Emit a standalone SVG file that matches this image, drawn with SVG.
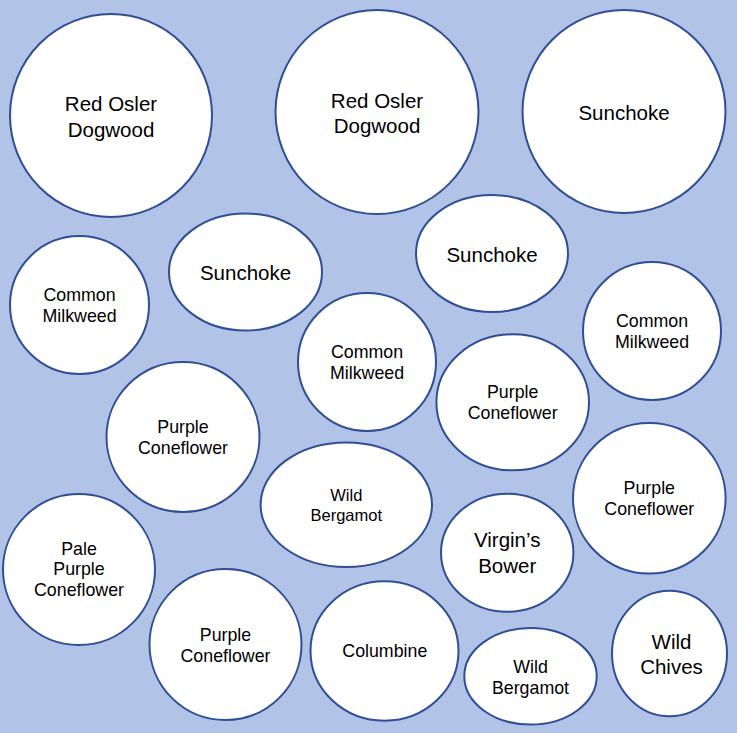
<svg xmlns="http://www.w3.org/2000/svg" width="737" height="733" viewBox="0 0 737 733">
<style>
.n{fill:#ffffff;stroke:#2F4E96;stroke-width:2}
text{font-family:"Liberation Sans",Arial,sans-serif;fill:#000;text-anchor:middle}
.l{font-size:20.5px}
.m{font-size:17.8px}
.s{font-size:16.5px}
</style>
<rect x="0" y="0" width="737" height="733" fill="#B1C4E7"/>
<g id="connectors"></g>
<g id="n1"><ellipse class="n" cx="111" cy="115.5" rx="101" ry="101.5"/><text class="l" x="111" y="111">Red Osler</text><text class="l" x="111" y="136.5">Dogwood</text></g>
<g id="n2"><ellipse class="n" cx="377" cy="112" rx="101.5" ry="102"/><text class="l" x="377" y="107.5">Red Osler</text><text class="l" x="377" y="133">Dogwood</text></g>
<g id="n3"><ellipse class="n" cx="624" cy="111.5" rx="101.5" ry="101.5"/><text class="l" x="624" y="119.5">Sunchoke</text></g>
<g id="n4"><ellipse class="n" cx="245.5" cy="272" rx="76.5" ry="58.5"/><text class="l" x="245.5" y="280">Sunchoke</text></g>
<g id="n5"><ellipse class="n" cx="492" cy="253.5" rx="76" ry="58.5"/><text class="l" x="492" y="261.5">Sunchoke</text></g>
<g id="n6"><ellipse class="n" cx="79.5" cy="305" rx="69.5" ry="69"/><text class="m" x="79.5" y="301">Common</text><text class="m" x="79.5" y="322">Milkweed</text></g>
<g id="n7"><ellipse class="n" cx="367" cy="362" rx="69" ry="69"/><text class="m" x="367" y="358">Common</text><text class="m" x="367" y="379">Milkweed</text></g>
<g id="n8"><ellipse class="n" cx="652" cy="331" rx="69" ry="69"/><text class="m" x="652" y="327">Common</text><text class="m" x="652" y="348">Milkweed</text></g>
<g id="n9"><ellipse class="n" cx="183" cy="437" rx="76.5" ry="75"/><text class="m" x="183" y="433">Purple</text><text class="m" x="183" y="454">Coneflower</text></g>
<g id="n10"><ellipse class="n" cx="512.7" cy="402.3" rx="76.3" ry="68"/><text class="m" x="512.7" y="397.5">Purple</text><text class="m" x="512.7" y="418.5">Coneflower</text></g>
<g id="n11"><ellipse class="n" cx="649.3" cy="498.3" rx="76.3" ry="75.3"/><text class="m" x="649.3" y="494">Purple</text><text class="m" x="649.3" y="515">Coneflower</text></g>
<g id="n12"><ellipse class="n" cx="346.3" cy="504.7" rx="85.7" ry="62.3"/><text class="s" x="346.3" y="500.7">Wild</text><text class="s" x="346.3" y="520.7">Bergamot</text></g>
<g id="n13"><ellipse class="n" cx="507.2" cy="552.7" rx="66.2" ry="59"/><text class="l" x="507.2" y="547.3">Virgin’s</text><text class="l" x="507.2" y="573">Bower</text></g>
<g id="n14"><ellipse class="n" cx="79" cy="569.5" rx="76" ry="75.5"/><text class="m" x="79" y="554.7">Pale</text><text class="m" x="79" y="575.3">Purple</text><text class="m" x="79" y="596.3">Coneflower</text></g>
<g id="n15"><ellipse class="n" cx="225.5" cy="644.5" rx="76" ry="75.5"/><text class="m" x="225.5" y="640.7">Purple</text><text class="m" x="225.5" y="661.7">Coneflower</text></g>
<g id="n16"><ellipse class="n" cx="384.5" cy="651" rx="74" ry="69.7"/><text class="m" x="384.8" y="656.5">Columbine</text></g>
<g id="n17"><ellipse class="n" cx="530.5" cy="676.3" rx="66.2" ry="48.3"/><text class="m" x="530.5" y="673">Wild</text><text class="m" x="530.5" y="694">Bergamot</text></g>
<g id="n18"><ellipse class="n" cx="669.5" cy="653.5" rx="57.5" ry="62.8"/><text class="l" x="671.5" y="648.7">Wild</text><text class="l" x="671.5" y="673.7">Chives</text></g>
</svg>
